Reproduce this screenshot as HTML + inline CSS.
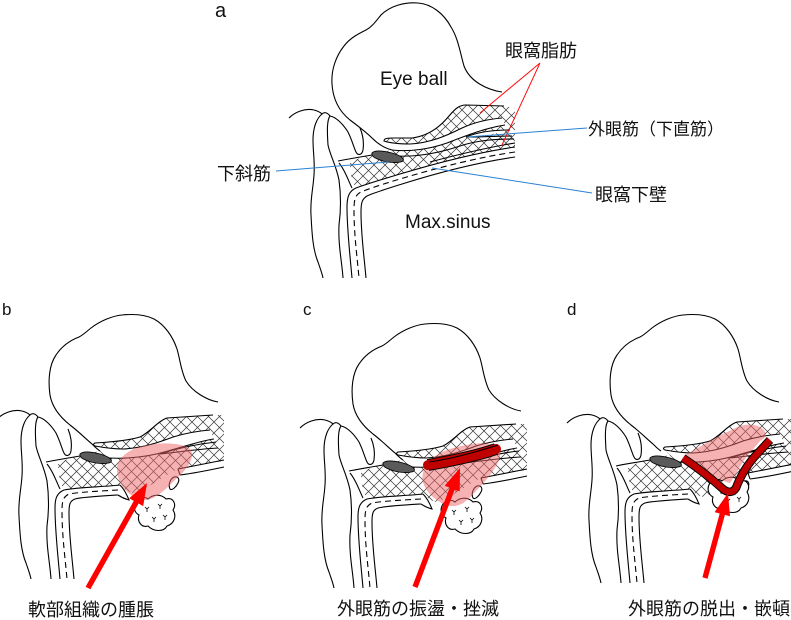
<!DOCTYPE html>
<html><head><meta charset="utf-8"><style>
html,body{margin:0;padding:0;background:#fff;}
svg{display:block;}
text{font-family:"Liberation Sans","Noto Sans CJK JP",sans-serif;fill:#111;}
</style></head><body>
<svg xmlns="http://www.w3.org/2000/svg" width="791" height="620" viewBox="0 0 791 620">
<defs>
 <pattern id="xh" width="11" height="11" patternUnits="userSpaceOnUse">
  <path d="M-1,-1L12,12M12,-1L-1,12" stroke="#333" stroke-width="0.7" fill="none"/>
 </pattern>
 <g id="lid" fill="none" stroke="#000" stroke-width="1.1">
  <path d="M289,118 C295,112 305,108 314,110 C318,111 320,112 322,114 C324,112 327,112 330,116"/>
  <path d="M322,114 C317,118 313,127 313,140 C313,152 315,162 314,175 C313,190 310,200 311,215 C312,235 313,250 318,262 C320,268 322,273 323,278"/>
  <path d="M330,116 C327,120 327,130 328,145 C330,155 336,165 339,180 C341,195 341,210 339,225 C338,245 342,262 343,278"/>
  <path d="M330,116 C336,117 343,124 348,132 C352,140 354,148 356,152 C358,156 362,155 363,150 C364,143 363,135 360,128"/>
  <path d="M338,161 C348,159 360,157 372,155"/>
  <path d="M339,163 C345,170 348,180 352,188"/>
 </g>
 <path id="oval" d="M372,153 C375,150 384,151 392,153 C399,155 405,158 403,161 C400,163 390,163 383,161 C377,159 371,157 372,153 Z" fill="#5a5a5a" stroke="#000" stroke-width="0.9"/>
 <path id="eyeA" fill="none" stroke="#000" stroke-width="1.1" d="M502,92 C488,90 470,82 464,66 C460,52 458,38 451,27 C444,14 432,4 418,3 C404,2 390,6 381,15 C376,21 372,27 366,30 C358,34 350,38 344,46 C336,56 331,70 332,84 C333,100 340,112 350,120 C358,126 366,132 372,138 C378,144 384,148 392,150"/>
 <path id="eyeB" fill="none" stroke="#000" stroke-width="1.1" d="M510,101 C498,99 484,90 478,80 C473,70 472,58 469,48 C465,36 457,24 446,18 C436,13 424,13 414,14 C404,15 392,20 383,27 C378,31 375,34 371,36 C363,39 354,45 348,54 C341,64 340,80 342,94 C344,106 352,116 362,124 C370,130 378,138 384,143 C388,147 390,149 392,150"/>
 <g id="baseB" fill="none" stroke="#000" stroke-width="1.1">
  <path d="M387,142 C405,141 422,139 432,136 C442,131 450,120 459,117 L505,114 L516,114 L516,160 C500,162 485,165 470,168 C455,175 440,188 425,192 C418,190 414,186 412,184 C395,186 370,186 356,189 C352,182 350,172 350,163 C358,158 365,156 372,154 L392,150 C390,148 388,146 387,145 Z" fill="url(#xh)" stroke="none"/>
  <path d="M387,145 C398,147 408,148 415,148 C435,147 452,141 465,136 C478,132 490,130 502,129 L506,138 C492,140 478,145 460,150 C440,156 420,158 400,157 Z" fill="#fff" stroke="none"/>
  <path d="M387,145 C385,144 385,143 387,142 C405,141 422,139 432,136 C442,131 450,120 459,117 L505,114"/>
  <path d="M387,145 C398,147 408,148 415,148 C435,147 452,141 465,136 C478,132 490,130 502,129"/>
  <path d="M400,157 C420,158 440,156 460,150 C478,145 492,140 506,138"/>
  <path d="M452,153 C470,147 490,143 508,141 M452,153 C472,151 490,148 510,147"/>
  <path d="M412,184 C395,186 370,186 356,189 C349,192 347,197 347,207 C347,230 350,255 352,278"/>
  <path d="M410,189 C393,190 372,191 361,193 C355,196 354,200 354,210 C354,235 357,255 359,278" stroke-dasharray="6,4"/>
  <path d="M410,194 C393,195 375,196 367,198 C362,200 361,203 361,212 C361,235 364,255 366,278"/>
  <path d="M412,184 C416,188 419,194 421,199 C417,198 413,196 410,194" fill="#fff"/>
  <path d="M470,168 C485,165 500,162 516,159 M472,174 C488,172 502,169 516,166"/>
  <path d="M470,168 L472,174" />
  <path d="M466,176 C462,178 460,184 462,188 C464,190 468,186 470,182 C472,178 470,175 466,176 Z" fill="#fff"/>
 </g>
 <g id="frag" fill="none" stroke="#000" stroke-width="1.1">
  <path d="M428,200 C424,206 427,212 431,214 C429,220 433,227 440,225 C446,231 456,231 459,225 C466,223 469,215 465,209 C469,203 465,196 458,198 C452,192 444,194 440,198 C436,195 431,196 428,200 Z" fill="#fff"/>
  <path d="M437,206 l2,2 l2,-2 M439,208 l0,3 M450,203 l2,2 l2,-2 M452,205 l0,3 M444,216 l2,2 l2,-2 M446,218 l0,3 M455,214 l2,2 l2,-2 M457,216 l0,3" stroke-width="0.8"/>
 </g>
</defs>

<rect width="791" height="620" fill="#fff"/>

<!-- ================= Panel a ================= -->
<g>
 <path d="M384,141 C384,138 388,138 394,138 L412,138 C428,136 440,127 449,116 C455,109 459,105 466,105 L504,106 L515,108 L515,147 C480,152 440,162 400,174 C380,180 362,185 356,188 C352,182 350,172 350,163 C358,158 365,156 372,154 L392,150 Z" fill="url(#xh)"/>
 <path d="M384,141 C390,143 400,144 410,144 C430,143 446,136 462,128 C475,122 490,119 502,118 L505,125 C485,128 465,136 447,143 C430,149 410,152 392,150 Z" fill="#fff"/>
 <path d="M466,137 C478,132 494,130 510,130 C495,134 480,137 466,137 Z" fill="#fff"/>
 <use href="#lid"/>
 <use href="#eyeA"/>
 <g fill="none" stroke="#000" stroke-width="1.1">
  <path d="M504,106 L466,105 C459,105 455,109 449,116 C440,127 428,136 412,138 L394,138 C388,138 384,138 384,141 C390,143 400,144 410,144 C430,143 446,136 462,128 C475,122 490,119 502,118"/>
  <path d="M392,150 C410,152 430,149 447,143 C465,136 485,128 505,125"/>
  <path d="M398,156 C420,157 442,152 460,146 C478,140 496,139 514,139"/>
  <path d="M466,137 C478,132 494,130 510,130 M466,137 C480,137 496,136 512,136"/>
  <path d="M515,143 C490,147 460,154 430,162"/>
  <path d="M515,147 C480,152 440,162 400,174 C380,180 364,185 356,188 C349,191 347,197 347,207 C347,230 350,255 352,278"/>
  <path d="M515,152 C480,157 440,167 400,179 C383,184 368,189 361,192 C355,195 354,200 354,210 C354,235 357,255 359,278" stroke-dasharray="6,4"/>
  <path d="M515,157 C480,162 440,172 402,184 C386,189 373,193 367,196 C362,199 361,203 361,212 C361,235 364,255 366,278"/>
 </g>
 <use href="#oval"/>
 <!-- leaders -->
 <g fill="none" stroke-width="1">
  <path d="M540,63 L480,113 M540,63 L502,145" stroke="#ff1010"/>
  <path d="M587,128 L467,137 M592,193 L432,168 M276,171 L388,162" stroke="#2a82d2"/>
 </g>
 <text x="215" y="17" font-size="20">a</text>
 <text x="380" y="85" font-size="19">Eye ball</text>
 <text x="405" y="228" font-size="19">Max.sinus</text>
 <text x="505" y="57" font-size="18">眼窩脂肪</text>
 <text x="588" y="135" font-size="17">外眼筋（下直筋）</text>
 <text x="595" y="201" font-size="18">眼窩下壁</text>
 <text x="217" y="180" font-size="18">下斜筋</text>
</g>

<!-- ================= Panel b ================= -->
<g transform="translate(-292,301)">
 <use href="#baseB"/>
 <use href="#lid"/>
 <use href="#eyeB"/>
 <use href="#oval"/>
 <use href="#frag"/>
 <path d="M410,162 C415,152 425,147 440,144 C455,141 475,142 482,148 C488,155 480,168 468,178 C458,188 448,198 438,199 C428,199 418,192 413,183 C409,175 408,168 410,162 Z" fill="#ee6666" fill-opacity="0.5"/>
</g>
<polygon points="85.6,586.7 133.8,500.9 129.2,498.3 147,483 143.2,506.1 138.6,503.5 90.4,589.3" fill="#ff0000"/>
<text x="2" y="315" font-size="17">b</text>
<text x="28" y="616" font-size="18">軟部組織の腫脹</text>

<!-- ================= Panel c ================= -->
<g transform="translate(11,310)">
 <use href="#baseB"/>
 <use href="#lid"/>
 <use href="#eyeB"/>
 <use href="#oval"/>
 <use href="#frag" transform="translate(4,-6)"/>
 <path d="M412,163 C414,152 425,142 446,137 C466,132 484,131 489,140 C492,150 478,168 466,180 C457,190 450,197 440,196 C428,194 418,185 414,177 C411,172 411,167 412,163 Z" fill="#ee6666" fill-opacity="0.5"/>
 <path d="M417,155 C440,151 465,146 485,139" fill="none" stroke="#000" stroke-width="12"/>
 <path d="M417,155 C440,151 465,146 485,139" fill="none" stroke="#c00000" stroke-width="10" stroke-linecap="round"/>
 <path d="M418,152 C440,149 465,142 487,135" fill="none" stroke="#000" stroke-width="1"/>
</g>
<polygon points="412.5,586 449.7,487.6 444.7,485.8 460,468 459.7,491.4 454.7,489.6 417.5,588" fill="#ff0000"/>
<text x="303" y="315" font-size="17">c</text>
<text x="337" y="615" font-size="18">外眼筋の振盪・挫滅</text>

<!-- ================= Panel d ================= -->
<g transform="translate(278,305)">
 <use href="#baseB"/>
 <use href="#lid"/>
 <use href="#eyeB" transform="translate(-9,-4)"/>
 <use href="#oval"/>
 <use href="#frag" transform="translate(4,-22)"/>
 <path d="M407,150 C425,140 445,128 462,121 C472,118 484,120 487,127 C489,132 486,134 482,136 L470,150 C462,160 458,170 452,178 C440,175 425,165 407,152 Z" fill="#ee6666" fill-opacity="0.5"/>
 <path d="M405,153 C420,163 435,175 445,184 C450,188 455,188 458,183 C462,172 470,158 480,148 L492,135" fill="none" stroke="#000" stroke-width="8.5" stroke-linejoin="round"/>
 <path d="M405,153 C420,163 435,175 445,184 C450,188 455,188 458,183 C462,172 470,158 480,148 L492,135" fill="none" stroke="#c00000" stroke-width="6.5" stroke-linejoin="round"/>
</g>
<polygon points="702.4,577.3 719.7,513.5 714.6,512.1 728,493 730,516.3 724.9,514.9 707.6,578.7" fill="#ff0000"/>
<text x="567" y="315" font-size="17">d</text>
<text x="628" y="615" font-size="18">外眼筋の脱出・嵌頓</text>
</svg>
</body></html>
